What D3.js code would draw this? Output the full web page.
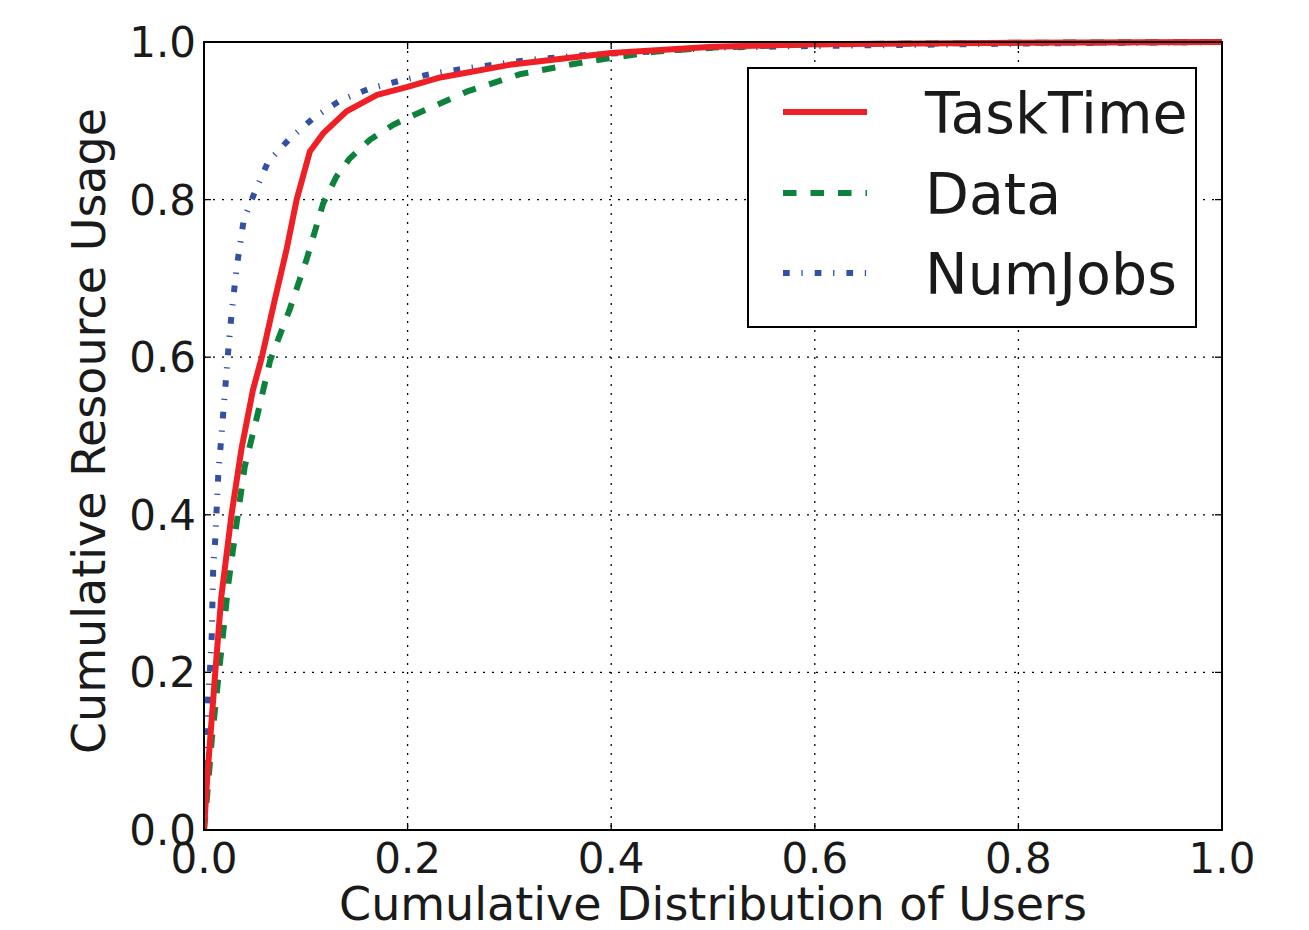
<!DOCTYPE html>
<html><head><meta charset="utf-8">
<script src="https://cdn.jsdelivr.net/npm/d3@7"></script>
<style>body{margin:0;background:#fff}svg{display:block}</style>
</head><body>
<script>
// ---- data ----
const xTicks = [0.0, 0.2, 0.4, 0.6, 0.8, 1.0];
const yTicks = [0.0, 0.2, 0.4, 0.6, 0.8, 1.0];
const tickLabels = ["0.0","0.2","0.4","0.6","0.8","1.0"];
const seriesNames = ["TaskTime","Data","NumJobs"];
const taskTimeX = [0,0.003,0.011,0.017,0.027,0.037,0.048,0.057,0.069,0.081,0.091,0.104,0.117,0.14,0.17,0.2,0.232,0.3,0.4,0.5,0.6,0.8,1.0];
const taskTimeY = [0,0.063,0.199,0.296,0.40,0.485,0.558,0.601,0.67,0.736,0.80,0.861,0.884,0.912,0.933,0.943,0.955,0.971,0.986,0.994,0.997,0.999,1.0];
const dataX = [0,0.003,0.0076,0.016,0.024,0.032,0.040,0.052,0.065,0.084,0.101,0.117,0.130,0.143,0.163,0.186,0.209,0.232,0.258,0.310,0.363,0.396,0.445,0.5,0.6,0.8,1.0];
const dataY = [0,0.042,0.114,0.216,0.313,0.389,0.461,0.524,0.596,0.66,0.725,0.795,0.829,0.852,0.876,0.895,0.909,0.922,0.937,0.959,0.972,0.979,0.988,0.993,0.997,0.999,1.0];
const numJobsX = [0,0.001,0.003,0.004,0.006,0.0076,0.009,0.011,0.014,0.019,0.024,0.027,0.032,0.039,0.050,0.063,0.084,0.107,0.134,0.163,0.193,0.225,0.255,0.317,0.379,0.441,0.503,0.6,0.8,1.0];
const numJobsY = [0,0.085,0.127,0.167,0.207,0.247,0.33,0.368,0.45,0.531,0.611,0.654,0.713,0.774,0.81,0.848,0.877,0.903,0.926,0.941,0.951,0.96,0.966,0.977,0.984,0.988,0.993,0.995,0.998,1.0];

const W = 1309, H = 930;
const m = {left:204, right:1222, top:42, bottom:830};
const svg = d3.select("body").append("svg").attr("width",W).attr("height",H);
const x = d3.scaleLinear().domain([0,1]).range([m.left,m.right]);
const y = d3.scaleLinear().domain([0,1]).range([m.bottom,m.top]);
const FONT = "DejaVu Sans, Bitstream Vera Sans, sans-serif";
const TXT = "#1a1a1a";

// grid
const g = svg.append("g");
g.selectAll(".gx").data(xTicks.slice(1,-1)).join("line")
  .attr("x1",d=>x(d)).attr("x2",d=>x(d)).attr("y1",m.top).attr("y2",m.bottom)
  .attr("stroke","#000").attr("stroke-width",1.3).attr("stroke-dasharray","2,7");
g.selectAll(".gy").data(yTicks.slice(1,-1)).join("line")
  .attr("y1",d=>y(d)).attr("y2",d=>y(d)).attr("x1",m.left).attr("x2",m.right)
  .attr("stroke","#000").attr("stroke-width",1.3).attr("stroke-dasharray","2,7");

// lines
svg.append("clipPath").attr("id","c").append("rect")
  .attr("x",m.left).attr("y",m.top-4).attr("width",m.right-m.left+4).attr("height",m.bottom-m.top+4);
const mk = (xs,ys)=>xs.map((v,i)=>[v,ys[i]]);
const line = d3.line().x(d=>x(d[0])).y(d=>y(d[1]));
const series = [
  {name:seriesNames[0], pts:mk(taskTimeX,taskTimeY), color:"#ee2025", dash:null, w:6},
  {name:seriesNames[1], pts:mk(dataX,dataY), color:"#0d823c", dash:"13.5,14", w:6},
  {name:seriesNames[2], pts:mk(numJobsX,numJobsY), color:"#3450a2", dash:"6.7,11.7,1.3,12", w:6}
];
const lg = svg.append("g").attr("clip-path","url(#c)");
series.slice().reverse().forEach(s=>{
  lg.append("path").attr("d",line(s.pts)).attr("fill","none")
    .attr("stroke",s.color).attr("stroke-width",s.w)
    .attr("stroke-dasharray",s.dash).attr("stroke-linejoin","round");
});

// frame
svg.append("rect").attr("x",m.left).attr("y",m.top).attr("width",m.right-m.left).attr("height",m.bottom-m.top)
  .attr("fill","none").attr("stroke","#000").attr("stroke-width",2);

// ticks (inward, all sides)
const tl = 7;
xTicks.forEach(t=>{
  svg.append("line").attr("x1",x(t)).attr("x2",x(t)).attr("y1",m.bottom).attr("y2",m.bottom-tl).attr("stroke","#000").attr("stroke-width",1.3);
  svg.append("line").attr("x1",x(t)).attr("x2",x(t)).attr("y1",m.top).attr("y2",m.top+tl).attr("stroke","#000").attr("stroke-width",1.3);
});
yTicks.forEach(t=>{
  svg.append("line").attr("y1",y(t)).attr("y2",y(t)).attr("x1",m.left).attr("x2",m.left+tl).attr("stroke","#000").attr("stroke-width",1.3);
  svg.append("line").attr("y1",y(t)).attr("y2",y(t)).attr("x1",m.right).attr("x2",m.right-tl).attr("stroke","#000").attr("stroke-width",1.3);
});

// tick labels
svg.selectAll(".xl").data(xTicks).join("text")
  .attr("x",d=>x(d)).attr("y",m.bottom+43).attr("text-anchor","middle")
  .attr("font-family",FONT).attr("font-size",42).attr("fill",TXT)
  .text((d,i)=>tickLabels[i]);
svg.selectAll(".yl").data(yTicks).join("text")
  .attr("x",m.left-8).attr("y",d=>y(d)+15).attr("text-anchor","end")
  .attr("font-family",FONT).attr("font-size",42).attr("fill",TXT)
  .text((d,i)=>tickLabels[i]);

// axis labels
svg.append("text").attr("x",(m.left+m.right)/2).attr("y",920).attr("text-anchor","middle")
  .attr("font-family",FONT).attr("font-size",46).attr("fill",TXT)
  .text("Cumulative Distribution of Users");
svg.append("text").attr("transform","translate(105,431) rotate(-90)").attr("text-anchor","middle")
  .attr("font-family",FONT).attr("font-size",46).attr("fill",TXT)
  .text("Cumulative Resource Usage");

// legend
const L = {x:748, y:68, w:448, h:259};
svg.append("rect").attr("x",L.x).attr("y",L.y).attr("width",L.w).attr("height",L.h)
  .attr("fill","#fff").attr("stroke","#000").attr("stroke-width",2);
const rowY = [112,193,273];
series.forEach((s,i)=>{
  svg.append("line").attr("x1",783).attr("x2",867).attr("y1",rowY[i]).attr("y2",rowY[i])
    .attr("stroke",s.color).attr("stroke-width",s.w).attr("stroke-dasharray",s.dash);
  svg.append("text").attr("x",925).attr("y",rowY[i]+21).attr("font-family",FONT)
    .attr("font-size",57).attr("fill",TXT).text(s.name);
});
</script>
</body></html>
